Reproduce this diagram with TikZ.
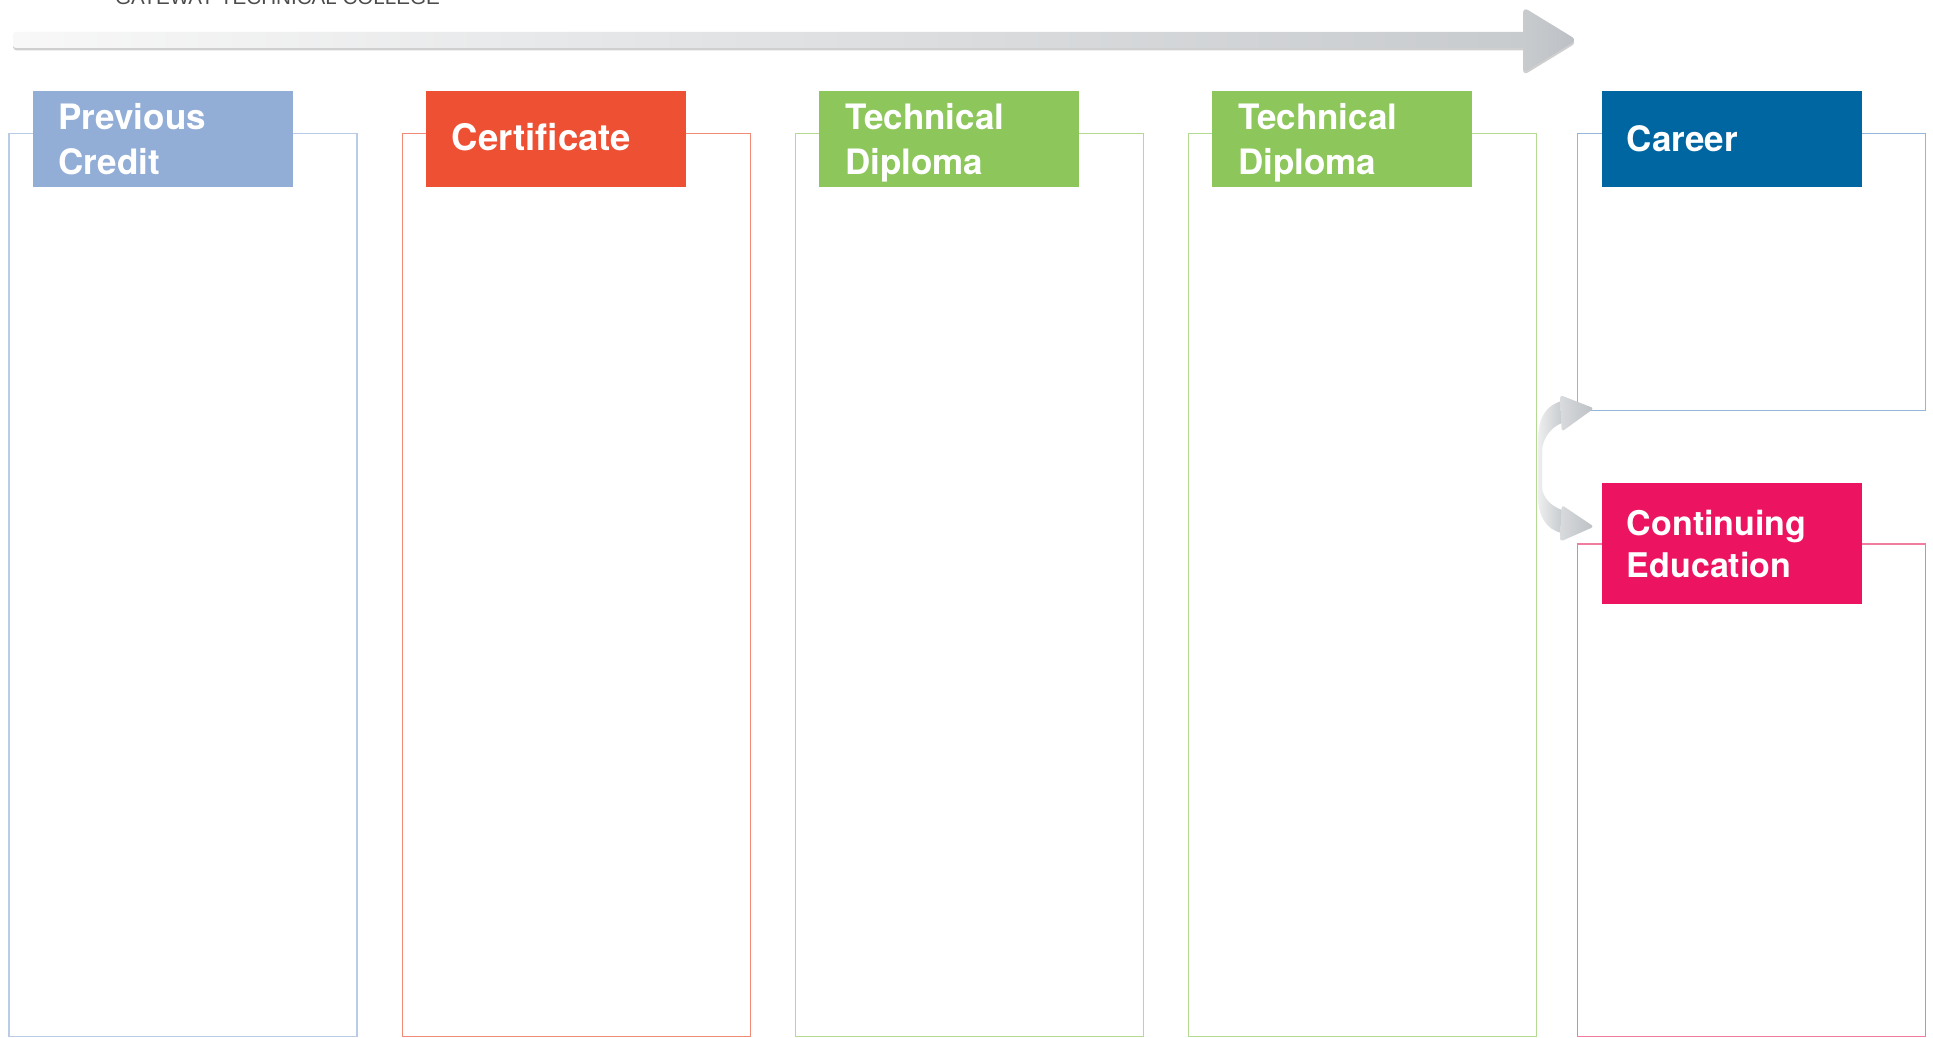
\documentclass[tikz,border=0pt]{standalone}
\usepackage{fontspec}
\setmainfont{TeX Gyre Heros}
\newfontfamily\thinfont{Liberation Sans}
\definecolor{pcc}{HTML}{93AED6}
\definecolor{pcframe}{HTML}{B9CBE7}
\definecolor{certc}{HTML}{EE5034}
\definecolor{certframe}{HTML}{F28A78}
\definecolor{tdc}{HTML}{8DC65B}
\definecolor{tdframe}{HTML}{B3D993}
\definecolor{carc}{HTML}{0066A1}
\definecolor{carframe}{HTML}{94B6D8}
\definecolor{cec}{HTML}{EC1461}
\definecolor{ceframe}{HTML}{F07DA0}
\definecolor{arrowlight}{HTML}{F8F8F8}
\definecolor{arrowmid}{HTML}{C8CBCE}
\definecolor{arrowdark}{HTML}{BCC0C4}
\definecolor{arrowshadow}{HTML}{CFCFCF}
\definecolor{carrowlight}{HTML}{EDEEEF}
\begin{document}
\begin{tikzpicture}[x=1pt,y=-1pt,
  framebox/.style={draw=#1, line width=1.4pt, anchor=north west, inner sep=0pt, minimum width=348pt},
  labbox/.style={fill=#1, draw=none, anchor=north west, inner sep=0pt, minimum width=260pt, minimum height=96pt},
  labtxt/.style={text=white, font=\fontsize{35}{42}\selectfont\bfseries, anchor=base west, inner sep=0pt},
  smalltxt/.style={labtxt, font=\fontsize{34}{41}\selectfont\bfseries},
  bigtxt/.style={labtxt, font=\fontsize{36.5}{44}\selectfont\bfseries}
]
\useasboundingbox (0,0) rectangle (1933,1038);
\fill[white] (0,0) rectangle (1933,1038);

% title
\node[font=\thinfont\fontsize{20.6}{24}\selectfont, text=black!70, anchor=base west, inner sep=0pt] (title) at (115,5) {GATEWAY TECHNICAL COLLEGE};

% top arrow
\fill[arrowshadow, rounded corners=4pt] (13,44) rectangle (1526,50.5);
\fill[arrowshadow, rounded corners=6pt] (1523,9.5) -- (1577,42.5) -- (1523,75.5) -- cycle;
\path[left color=arrowlight, right color=arrowmid, rounded corners=3pt] (13,32) rectangle (1526,48);
\path[left color=arrowmid, right color=arrowdark, rounded corners=6pt] (1523,7) -- (1577,40) -- (1523,73) -- cycle;

% frames
\node[framebox=pcframe, minimum height=903pt] (f1) at (8.3,133) {};
\node[framebox=certframe, minimum height=903pt] (f2) at (401.7,133) {};
\node[framebox=tdframe, minimum height=903pt] (f3) at (794.5,133) {};
\node[framebox=tdframe, minimum height=903pt] (f4) at (1187.7,133) {};
\node[framebox=carframe, minimum height=277pt] (f5) at (1576.7,133) {};
\node[framebox=ceframe, minimum height=492.7pt] (f6) at (1576.7,543.3) {};

% curved arrows
\path[left color=carrowlight, right color=arrowmid]
  (1562,401) .. controls (1546,405) and (1538,418) .. (1538,440) -- (1538,497)
  .. controls (1538,515) and (1546,530) .. (1562,533) -- (1562,510)
  .. controls (1551,506) and (1543,498) .. (1542,488) -- (1542,450)
  .. controls (1543,438) and (1551,427) .. (1562,423) -- cycle;
\path[left color=arrowmid!70!white, right color=arrowdark, rounded corners=3pt]
  (1560,395) -- (1594,408.3) -- (1561.7,431.7) -- cycle;
\path[left color=arrowmid!70!white, right color=arrowdark, rounded corners=3pt]
  (1561.7,505) -- (1594,526.7) -- (1560,541.7) -- cycle;

% labels
\node[labbox=pcc] (l1) at (33,90.7) {};
\node[labbox=certc] (l2) at (426,90.7) {};
\node[labbox=tdc] (l3) at (819,90.7) {};
\node[labbox=tdc] (l4) at (1212,90.7) {};
\node[labbox=carc] (l5) at (1602,90.7) {};
\node[labbox=cec, minimum height=120.6pt] (l6) at (1602,482.7) {};

% label texts
\node[labtxt] (t1a) at (58.3,130) {Previous};
\node[labtxt] (t1b) at (58.3,175) {Credit};
\node[bigtxt] (t2) at (451.7,150) {Certificate};
\node[labtxt] (t3a) at (845,130) {Technical};
\node[labtxt] (t3b) at (845,174.3) {Diploma};
\node[labtxt] (t4a) at (1238,130) {Technical};
\node[labtxt] (t4b) at (1238,174.3) {Diploma};
\node[labtxt] (t5) at (1626.7,151.7) {Career};
\node[smalltxt] (t6a) at (1626.7,535) {Continuing};
\node[smalltxt] (t6b) at (1626.7,577.3) {Education};
\end{tikzpicture}
\end{document}
